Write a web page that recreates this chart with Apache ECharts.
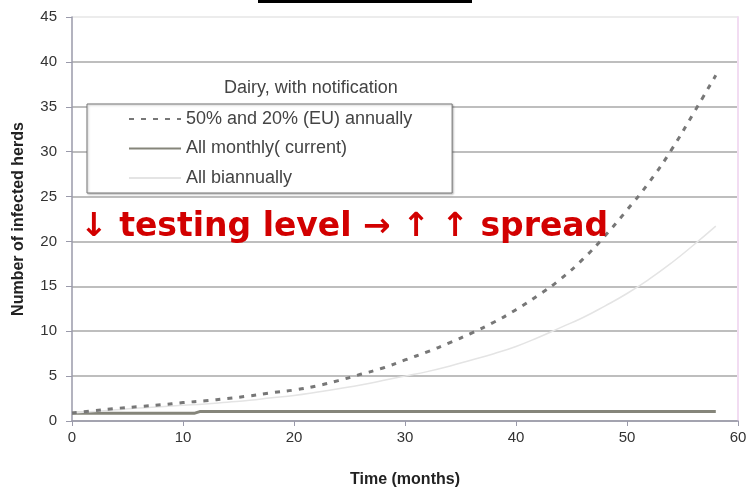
<!DOCTYPE html>
<html>
<head>
<meta charset="utf-8">
<script src="https://cdn.jsdelivr.net/npm/echarts@6/dist/echarts.min.js"></script>
<style>html,body{margin:0;padding:0;background:#fff;}#c{width:746px;height:490px;}</style>
</head>
<body>
<div id="c"></div>
<script>
const seriesNames = ['50% and 20% (EU) annually', 'All monthly( current)', 'All biannually'];
const monthsEU = [0,2,4,6,8,10,12,14,16,18,20,22,24,26,28,30,32,34,36,38,40,42,44,46,48,50,52,54,56,58];
const valuesEU = [0.9,1.15,1.4,1.6,1.8,2.05,2.25,2.5,2.8,3.15,3.45,3.9,4.5,5.2,5.9,6.8,7.7,8.7,9.8,11.0,12.4,14.0,15.8,18.0,20.6,23.5,26.6,30.2,34.3,38.5];
const monthsMonthly = [0,11,11.5,58];
const valuesMonthly = [0.85,0.85,1.05,1.05];
const monthsBi = [0,2,4,6,8,10,12,14,16,18,20,22,24,26,28,30,32,34,36,38,40,42,44,46,48,50,52,54,56,58];
const valuesBi = [0.9,1.05,1.25,1.45,1.6,1.75,1.9,2.1,2.3,2.6,2.85,3.2,3.6,4.0,4.5,5.0,5.5,6.1,6.8,7.5,8.3,9.3,10.4,11.5,12.8,14.2,15.8,17.6,19.6,21.7];
const xTicks = {min:0, max:60, interval:10};
const yTicks = {min:0, max:45, interval:5};
const legendTitle = 'Dairy, with notification';
const annotation = '↓ testing level → ↑ ↑ spread';
const xName = 'Time (months)';
const yName = 'Number of infected herds';

const zip = (a, b) => a.map((x, i) => [x, b[i]]);
const chart = echarts.init(document.getElementById('c'), null, {renderer:'canvas'});
const gridColors = ['#a8a8a8','#a8a8a8','#a8a8a8','#a8a8a8','#a8a8a8','#a8a8a8','#a8a8a8','#a8a8a8','#a8a8a8','#e6e6e6'];
const FF = 'Liberation Sans, Arial, sans-serif';
chart.setOption({
  animation:false,
  backgroundColor:'#fff',
  textStyle:{fontFamily:FF},
  grid:{left:72, right:8, top:17, bottom:69, containLabel:false, outerBoundsMode:'none'},
  title:{text:legendTitle, left:224, top:79, padding:0, textStyle:{fontSize:18, fontWeight:'normal', color:'#444', fontFamily:FF}},
  legend:{
    data:seriesNames, orient:'vertical', left:87, top:104,
    padding:[6, 40, 6, 41], itemGap:11.5, itemWidth:52, itemHeight:17,
    backgroundColor:'#fff', borderColor:'#777', borderWidth:1,
    shadowColor:'rgba(0,0,0,0.25)', shadowOffsetX:1, shadowOffsetY:1, shadowBlur:2,
    itemStyle:{opacity:0},
    textStyle:{fontSize:18, color:'#444', fontFamily:FF, padding:[0,0,0,0]},
    selectedMode:false
  },
  xAxis:{
    type:'value', min:xTicks.min, max:xTicks.max, interval:xTicks.interval,
    name:xName, nameLocation:'middle', nameGap:51,
    nameTextStyle:{fontSize:16, fontWeight:'bold', color:'#222'},
    axisLine:{lineStyle:{color:'#9a9aaa', width:1.5}},
    axisTick:{show:true, length:5, lineStyle:{color:'#9a9aaa'}},
    axisLabel:{fontSize:15, color:'#333', margin:9},
    splitLine:{show:false}
  },
  yAxis:[{
    type:'value', min:yTicks.min, max:yTicks.max, interval:yTicks.interval,
    name:yName, nameLocation:'middle', nameGap:45, nameRotate:90,
    nameTextStyle:{fontSize:16, fontWeight:'bold', color:'#222'},
    axisLine:{show:true, lineStyle:{color:'#9a9aaa', width:1.5}},
    axisTick:{show:true, length:6, lineStyle:{color:'#9a9aaa'}},
    axisLabel:{fontSize:15, color:'#333', margin:15},
    splitLine:{show:true, lineStyle:{color:gridColors, width:1.5}}
  },{
    type:'value', position:'right', min:yTicks.min, max:yTicks.max, interval:yTicks.interval,
    axisLine:{show:true, lineStyle:{color:'#f2dcf2', width:2}},
    axisTick:{show:false}, axisLabel:{show:false}, splitLine:{show:false}
  }],
  series:[
    {name:seriesNames[0], type:'line', data:zip(monthsEU, valuesEU), smooth:0.5, symbol:'none',
     lineStyle:{color:'#777777', width:3, type:[5,7]}, itemStyle:{color:'#777777'}, z:3},
    {name:seriesNames[1], type:'line', data:zip(monthsMonthly, valuesMonthly), symbol:'none',
     lineStyle:{color:'#85857a', width:3}, itemStyle:{color:'#85857a'}, z:2},
    {name:seriesNames[2], type:'line', data:zip(monthsBi, valuesBi), smooth:0.5, symbol:'none',
     lineStyle:{color:'#e4e4e4', width:1.5}, itemStyle:{color:'#e4e4e4'}, z:2}
  ],
  graphic:[
    {type:'rect', left:258, top:0, shape:{width:214, height:3}, style:{fill:'#000'}},
    {type:'text', left:80, top:211, z:100, style:{text:annotation, fill:'#d20000', font:'bold 33px "DejaVu Sans", sans-serif'}}
  ]
});
</script>
</body>
</html>
